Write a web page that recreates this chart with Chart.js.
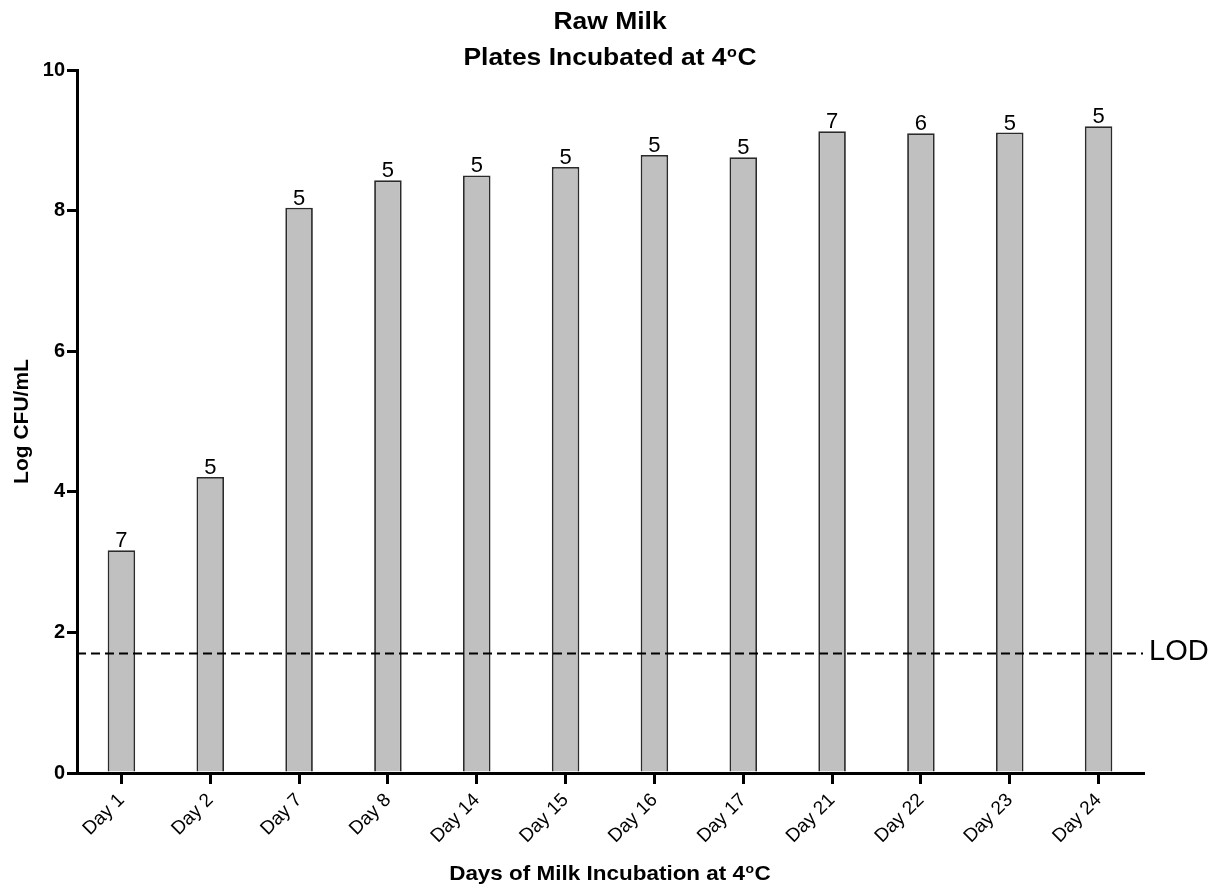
<!DOCTYPE html>
<html><head><meta charset="utf-8">
<script src="https://cdn.jsdelivr.net/npm/chart.js@4.4.1/dist/chart.umd.min.js"></script>
<style>html,body{margin:0;padding:0;background:#fff}#wrap{width:1221px;height:888px}</style>
</head><body><div id="wrap"><canvas id="c" width="1221" height="888"></canvas></div>
<script>
const categories = ["Day 1","Day 2","Day 7","Day 8","Day 14","Day 15","Day 16","Day 17","Day 21","Day 22","Day 23","Day 24"];
const logCFU = [3.17, 4.21, 8.04, 8.43, 8.50, 8.62, 8.79, 8.76, 9.13, 9.10, 9.11, 9.20];
const counts = ["7","5","5","5","5","5","5","5","7","6","5","5"];
const lodValue = 1.7;
const yTicks = [0, 2, 4, 6, 8, 10];
const title1 = "Raw Milk";
const title2 = ["Plates Incubated at 4", "o", "C"];
const xTitle = ["Days of Milk Incubation at 4", "o", "C"];
const yTitle = "Log CFU/mL";

const FONT = "'Liberation Sans', Arial, Helvetica, sans-serif";

function drawSup(ctx, parts, cx, baseline, size, sx) {
  const main = "bold " + size + "px " + FONT;
  const sup = "bold " + Math.round(size * 0.62) + "px " + FONT;
  ctx.font = main; const w0 = ctx.measureText(parts[0]).width, w2 = ctx.measureText(parts[2]).width;
  ctx.font = sup; const w1 = ctx.measureText(parts[1]).width;
  const total = (w0 + w1 + w2 + 1) * sx;
  ctx.save();
  ctx.translate(cx - total / 2, baseline);
  ctx.scale(sx, 1);
  ctx.textAlign = 'left'; ctx.textBaseline = 'alphabetic';
  ctx.font = main; ctx.fillText(parts[0], 0, 0);
  ctx.font = sup; ctx.fillText(parts[1], w0 + 0.5, -size * 0.33);
  ctx.font = main; ctx.fillText(parts[2], w0 + w1 + 1, 0);
  ctx.restore();
}

const overlay = {
  id: 'overlay',
  afterDatasetsDraw(chart) {
    const ctx = chart.ctx, ca = chart.chartArea;
    const y = chart.scales.y;
    const meta = chart.getDatasetMeta(0);
    ctx.save();
    const ly = y.getPixelForValue(lodValue);
    ctx.strokeStyle = '#000'; ctx.lineWidth = 2; ctx.setLineDash([9,5]);
    ctx.beginPath(); ctx.moveTo(ca.left, ly); ctx.lineTo(ca.right, ly); ctx.stroke();
    ctx.setLineDash([]);
    ctx.fillStyle = '#000';
    ctx.font = "29px " + FONT; ctx.textAlign = 'left'; ctx.textBaseline = 'middle';
    ctx.fillText("LOD", ca.right + 6, ly - 1);
    ctx.font = "22px " + FONT; ctx.textAlign = 'center'; ctx.textBaseline = 'alphabetic';
    meta.data.forEach((bar, i) => { ctx.fillText(counts[i], bar.x, bar.y - 3); });
    const cx = (ca.left + ca.right) / 2;
    ctx.save();
    ctx.translate(cx, 29); ctx.scale(1.15, 1);
    ctx.font = "bold 23px " + FONT; ctx.textAlign = 'center';
    ctx.fillText(title1, 0, 0);
    ctx.restore();
    drawSup(ctx, title2, cx, 65, 23, 1.15);
    drawSup(ctx, xTitle, cx, 880, 21, 1.07);
    ctx.translate(28, (ca.top + ca.bottom) / 2);
    ctx.rotate(-Math.PI / 2);
    ctx.font = "bold 21px " + FONT; ctx.textAlign = 'center'; ctx.textBaseline = 'alphabetic';
    ctx.fillText(yTitle, 0, 0);
    ctx.restore();
  }
};

new Chart(document.getElementById('c'), {
  type: 'bar',
  data: { labels: categories, datasets: [{
    data: logCFU, backgroundColor: '#c0c0c0', borderColor: '#2b2b2b', borderWidth: 1.8,
    barPercentage: 0.31, categoryPercentage: 1.0
  }]},
  options: {
    responsive: false, animation: false, devicePixelRatio: 1,
    layout: { padding: { top: 70, right: 78, left: 0, bottom: 0 } },
    plugins: { legend: { display: false }, tooltip: { enabled: false }, title: { display: false } },
    scales: {
      x: {
        afterFit(s) { s.height = 115; },
        grid: { display: true, drawOnChartArea: false, drawTicks: true, tickLength: 11, color: '#000', lineWidth: 3, offset: false },
        border: { display: true, color: '#000', width: 3 },
        ticks: { color: '#000', font: { family: FONT, size: 19 }, maxRotation: 45, minRotation: 45, padding: 5, autoSkip: false }
      },
      y: {
        min: 0, max: 10,
        afterFit(s) { s.width = 77; },
        afterBuildTicks(s) { s.ticks = yTicks.map(v => ({ value: v })); },
        grid: { display: true, drawOnChartArea: false, drawTicks: true, tickLength: 10, color: '#000', lineWidth: 3 },
        border: { display: true, color: '#000', width: 3 },
        ticks: { color: '#000', font: { family: FONT, size: 20, weight: 'bold' }, padding: 2 }
      }
    }
  },
  plugins: [overlay]
});
</script></body></html>
